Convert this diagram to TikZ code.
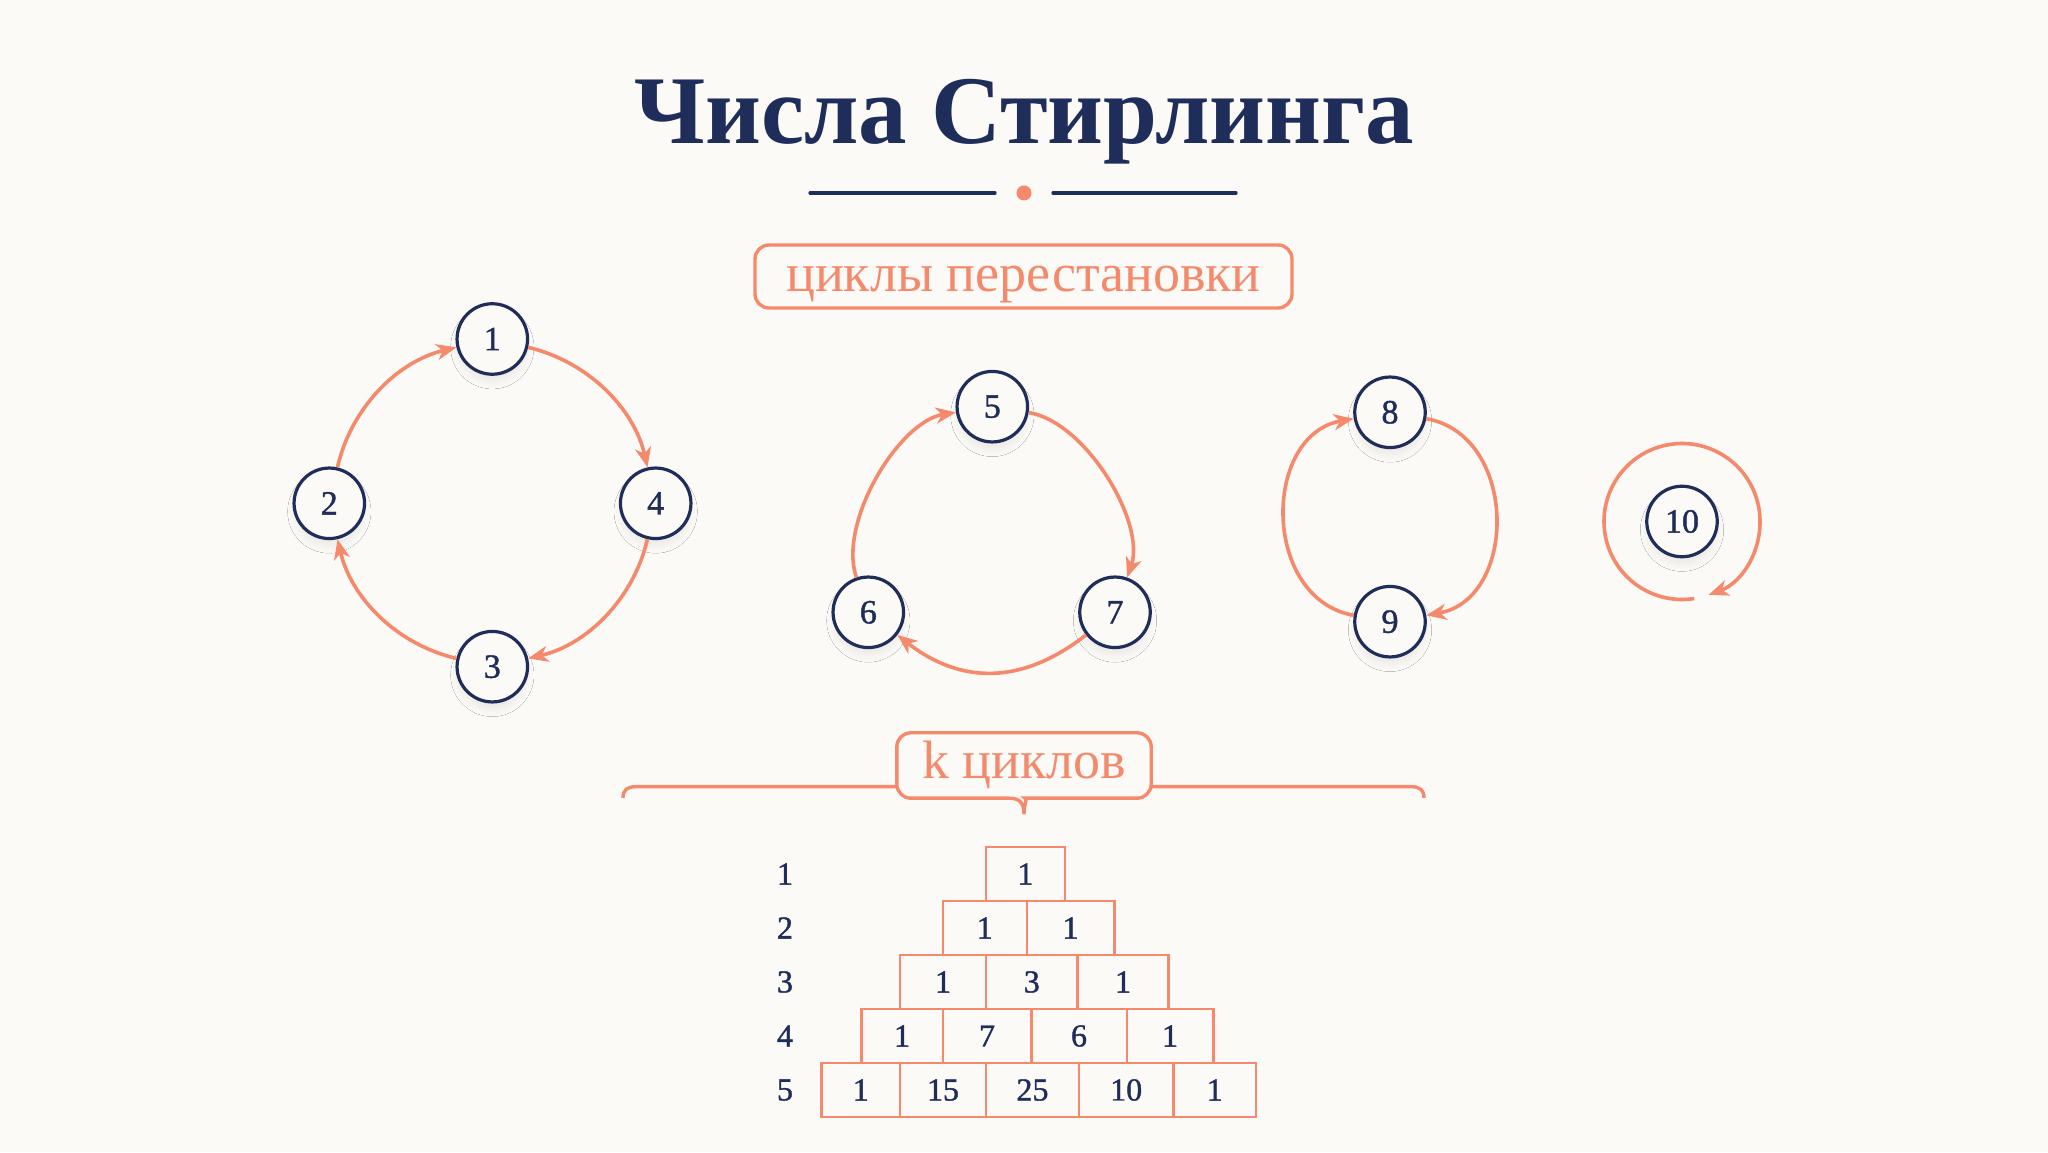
\documentclass[tikz,border=0pt]{standalone}
\usepackage{fontspec}
\setmainfont{Liberation Serif}
\newfontfamily\numfont[FakeBold=1.2]{Liberation Serif}
\usetikzlibrary{arrows.meta,shadows.blur,calc}
\definecolor{navy}{HTML}{1E2D5A}
\definecolor{salmon}{HTML}{F4896B}
\definecolor{cream}{HTML}{FCFAF7}
\begin{document}
\begin{tikzpicture}[x=1pt,y=1pt,
  cnode/.style={circle, draw=navy, line width=3.2pt, fill=cream, minimum size=70.5pt, inner sep=0pt, text=navy,
    font=\numfont\fontsize{34}{34}\selectfont,
    blur shadow={shadow xshift=0pt, shadow yshift=-9pt, shadow scale=0.92, shadow blur radius=10pt, shadow blur steps=10, shadow opacity=9}},
  arr/.style={draw=salmon, line width=3.6pt, -{Stealth[length=20pt,width=16pt,inset=6pt]}},
  cell/.style={draw=salmon, line width=2.4pt, minimum height=54pt, inner sep=0pt, text=navy, font=\numfont\fontsize{32}{32}\selectfont},
  rowlab/.style={text=navy, inner sep=0pt, font=\numfont\fontsize{32}{32}\selectfont},
  tag/.style={draw=salmon, line width=3.4pt, rounded corners=14pt, text=salmon, inner sep=0pt, font=\fontsize{54}{54}\selectfont},
  orn/.style={draw=navy, line width=3.2pt, line cap=round},
  brace/.style={draw=salmon, line width=3.4pt}
]
\fill[cream] (0,0) rectangle (2048,1152);
\useasboundingbox (0,0) rectangle (2048,1152);

% title
\node[anchor=base, text=navy, inner sep=0pt, font=\bfseries\fontsize{97}{97}\selectfont] (title) at (1024,1008) {Числа Стирлинга};
\draw[orn] (810,959) -- (995,959);
\draw[orn] (1053,959) -- (1236,959);
\fill[salmon] (1024,959) circle[radius=7.5];

% tag
\node[tag, minimum width=537pt, minimum height=63pt, text height=30pt, text depth=0pt] (tag1) at (1023.5,875.5) {циклы перестановки};

% cycle 1
\node[cnode] (n1) at (492.3,813) {1};
\node[cnode] (n2) at (329.3,648.7) {2};
\node[cnode] (n4) at (655.7,648.7) {4};
\node[cnode] (n3) at (492.3,485.3) {3};
\draw[arr] (n2) to[bend left=32, looseness=0.92] (n1);
\draw[arr] (n1) to[bend left=32, looseness=0.92] (n4);
\draw[arr] (n4) to[bend left=32, looseness=0.92] (n3);
\draw[arr] (n3) to[bend left=32, looseness=0.92] (n2);

% cycle 2
\node[cnode] (n5) at (992.3,745.3) {5};
\node[cnode] (n6) at (868.3,539.7) {6};
\node[cnode] (n7) at (1115,539.7) {7};
\draw[arr] (n6) to[bend left=50, looseness=0.77] (n5);
\draw[arr] (n5) to[bend left=50, looseness=0.77] (n7);
\draw[arr] (n7) to[bend left=38, looseness=1.1] (n6);

% cycle 3
\node[cnode] (n8) at (1390,739.7) {8};
\node[cnode] (n9) at (1390,530.3) {9};
\draw[arr] (n9) to[bend left=80, looseness=1.22] (n8);
\draw[arr] (n8) to[bend left=80, looseness=1.22] (n9);

% cycle 4
\node[cnode] (n10) at (1682,630.5) {10};
\draw[arr] ([shift={(-81:78)}]n10.center) arc[start angle=-81, end angle=-430, radius=78];

% k cycles label with brace
\node[minimum width=254pt, minimum height=65pt, inner sep=0pt, text height=27pt, text depth=0pt, text=salmon,
  font=\fontsize{54}{54}\selectfont] (kbox) at (1024,386.5) {k циклов};
\draw[brace] ($(kbox.south)+(-15,0)$) [rounded corners=14pt] -- (kbox.south west) -- (kbox.north west)
  -- (kbox.north east) -- (kbox.south east) -- ($(kbox.south)+(15,0)$) [sharp corners]
  .. controls ($(kbox.south)+(4,0)$) and ($(kbox.south)+(0,-5)$) .. ($(kbox.south)+(0,-16)$)
  .. controls ($(kbox.south)+(0,-5)$) and ($(kbox.south)+(-4,0)$) .. cycle;
\coordinate (bl) at (623,354);
\coordinate (bll) at (636,365.3);
\coordinate (br) at (1424,354);
\coordinate (brr) at (1411,365.3);
\draw[brace] (bl) .. controls (623,362) and (627,365.3) .. (bll) -- (bll -| kbox.west);
\draw[brace] (br) .. controls (1424,362) and (1420,365.3) .. (brr) -- (brr -| kbox.east);

% row labels
\node[rowlab] (r1) at (785,278) {1};
\node[rowlab] (r2) at (785,224) {2};
\node[rowlab] (r3) at (785,170) {3};
\node[rowlab] (r4) at (785,116) {4};
\node[rowlab] (r5) at (785,62) {5};

% table cells
\node[cell, minimum width=79.3pt] (c11) at (1025.4,278) {1};

\node[cell, minimum width=84pt] (c21) at (984.7,224) {1};
\node[cell, minimum width=87.6pt] (c22) at (1070.5,224) {1};

\node[cell, minimum width=86pt] (c31) at (943,170) {1};
\node[cell, minimum width=91.7pt] (c32) at (1031.8,170) {3};
\node[cell, minimum width=90.6pt] (c33) at (1123,170) {1};

\node[cell, minimum width=81.4pt] (c41) at (902,116) {1};
\node[cell, minimum width=88.6pt] (c42) at (987,116) {7};
\node[cell, minimum width=95.4pt] (c43) at (1079,116) {6};
\node[cell, minimum width=86.6pt] (c44) at (1170,116) {1};

\node[cell, minimum width=78.3pt] (c51) at (860.8,62) {1};
\node[cell, minimum width=86pt] (c52) at (943,62) {15};
\node[cell, minimum width=93pt] (c53) at (1032.5,62) {25};
\node[cell, minimum width=94.3pt] (c54) at (1126.2,62) {10};
\node[cell, minimum width=82.7pt] (c55) at (1214.7,62) {1};
\end{tikzpicture}
\end{document}
